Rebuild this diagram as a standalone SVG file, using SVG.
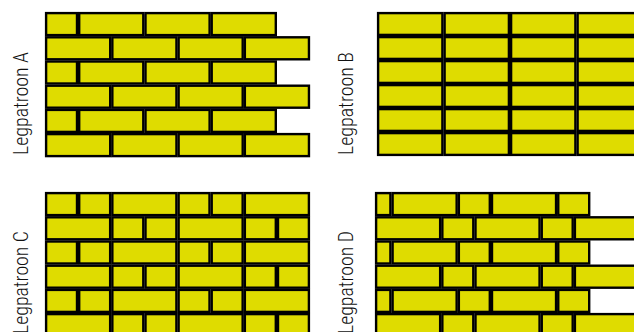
<svg xmlns="http://www.w3.org/2000/svg" width="634" height="332" viewBox="0 0 634 332">
<style>
.b{fill:#dfdc00;stroke:#000;stroke-width:2.4}
.lbl{font-family:"Roboto Condensed",Roboto,"Liberation Sans",Arial,sans-serif;font-weight:300;font-size:21px;fill:#111}
</style>
<rect width="634" height="332" fill="#fff"/>
<g id="patroonA">
<text class="lbl" transform="translate(27.5,155) rotate(-90)" textLength="103" lengthAdjust="spacingAndGlyphs">Legpatroon A</text>
<g id="A-r1"><rect class="b" x="46.1" y="13.1" width="30.9" height="22"/><rect class="b" x="79.2" y="13.1" width="64.1" height="22"/><rect class="b" x="145.5" y="13.1" width="64.1" height="22"/><rect class="b" x="211.7" y="13.1" width="64.1" height="22"/></g>
<g id="A-r2"><rect class="b" x="46.1" y="37.3" width="64.1" height="22"/><rect class="b" x="112.35" y="37.3" width="64.1" height="22"/><rect class="b" x="178.6" y="37.3" width="64.1" height="22"/><rect class="b" x="244.85" y="37.3" width="64.1" height="22"/></g>
<g id="A-r3"><rect class="b" x="46.1" y="61.5" width="30.9" height="22"/><rect class="b" x="79.2" y="61.5" width="64.1" height="22"/><rect class="b" x="145.5" y="61.5" width="64.1" height="22"/><rect class="b" x="211.7" y="61.5" width="64.1" height="22"/></g>
<g id="A-r4"><rect class="b" x="46.1" y="85.7" width="64.1" height="22"/><rect class="b" x="112.35" y="85.7" width="64.1" height="22"/><rect class="b" x="178.6" y="85.7" width="64.1" height="22"/><rect class="b" x="244.85" y="85.7" width="64.1" height="22"/></g>
<g id="A-r5"><rect class="b" x="46.1" y="109.9" width="30.9" height="22"/><rect class="b" x="79.2" y="109.9" width="64.1" height="22"/><rect class="b" x="145.5" y="109.9" width="64.1" height="22"/><rect class="b" x="211.7" y="109.9" width="64.1" height="22"/></g>
<g id="A-r6"><rect class="b" x="46.1" y="134.1" width="64.1" height="22"/><rect class="b" x="112.35" y="134.1" width="64.1" height="22"/><rect class="b" x="178.6" y="134.1" width="64.1" height="22"/><rect class="b" x="244.85" y="134.1" width="64.1" height="22"/></g>
</g>
<g id="patroonB">
<text class="lbl" transform="translate(353,155) rotate(-90)" textLength="103" lengthAdjust="spacingAndGlyphs">Legpatroon B</text>
<g id="B-r1"><rect class="b" x="378.1" y="13.1" width="64.3" height="21.8"/><rect class="b" x="444.6" y="13.1" width="64.3" height="21.8"/><rect class="b" x="511.1" y="13.1" width="64.3" height="21.8"/><rect class="b" x="577.6" y="13.1" width="64.3" height="21.8"/></g>
<g id="B-r2"><rect class="b" x="378.1" y="37.1" width="64.3" height="21.8"/><rect class="b" x="444.6" y="37.1" width="64.3" height="21.8"/><rect class="b" x="511.1" y="37.1" width="64.3" height="21.8"/><rect class="b" x="577.6" y="37.1" width="64.3" height="21.8"/></g>
<g id="B-r3"><rect class="b" x="378.1" y="61.1" width="64.3" height="21.8"/><rect class="b" x="444.6" y="61.1" width="64.3" height="21.8"/><rect class="b" x="511.1" y="61.1" width="64.3" height="21.8"/><rect class="b" x="577.6" y="61.1" width="64.3" height="21.8"/></g>
<g id="B-r4"><rect class="b" x="378.1" y="85.1" width="64.3" height="21.8"/><rect class="b" x="444.6" y="85.1" width="64.3" height="21.8"/><rect class="b" x="511.1" y="85.1" width="64.3" height="21.8"/><rect class="b" x="577.6" y="85.1" width="64.3" height="21.8"/></g>
<g id="B-r5"><rect class="b" x="378.1" y="109.1" width="64.3" height="21.8"/><rect class="b" x="444.6" y="109.1" width="64.3" height="21.8"/><rect class="b" x="511.1" y="109.1" width="64.3" height="21.8"/><rect class="b" x="577.6" y="109.1" width="64.3" height="21.8"/></g>
<g id="B-r6"><rect class="b" x="378.1" y="133.1" width="64.3" height="21.8"/><rect class="b" x="444.6" y="133.1" width="64.3" height="21.8"/><rect class="b" x="511.1" y="133.1" width="64.3" height="21.8"/><rect class="b" x="577.6" y="133.1" width="64.3" height="21.8"/></g>
</g>
<g id="patroonC">
<text class="lbl" transform="translate(27.5,334) rotate(-90)" textLength="103" lengthAdjust="spacingAndGlyphs">Legpatroon C</text>
<g id="C-r1"><rect class="b" x="46.1" y="193.1" width="30.9" height="22"/><rect class="b" x="79.2" y="193.1" width="30.95" height="22"/><rect class="b" x="112.35" y="193.1" width="64.05" height="22"/><rect class="b" x="178.6" y="193.1" width="30.9" height="22"/><rect class="b" x="211.7" y="193.1" width="30.95" height="22"/><rect class="b" x="244.85" y="193.1" width="64.05" height="22"/></g>
<g id="C-r2"><rect class="b" x="46.1" y="217.3" width="64.05" height="22"/><rect class="b" x="112.35" y="217.3" width="30.95" height="22"/><rect class="b" x="145.5" y="217.3" width="30.9" height="22"/><rect class="b" x="178.6" y="217.3" width="64.05" height="22"/><rect class="b" x="244.85" y="217.3" width="30.95" height="22"/><rect class="b" x="278" y="217.3" width="30.9" height="22"/></g>
<g id="C-r3"><rect class="b" x="46.1" y="241.5" width="30.9" height="22"/><rect class="b" x="79.2" y="241.5" width="30.95" height="22"/><rect class="b" x="112.35" y="241.5" width="64.05" height="22"/><rect class="b" x="178.6" y="241.5" width="30.9" height="22"/><rect class="b" x="211.7" y="241.5" width="30.95" height="22"/><rect class="b" x="244.85" y="241.5" width="64.05" height="22"/></g>
<g id="C-r4"><rect class="b" x="46.1" y="265.7" width="64.05" height="22"/><rect class="b" x="112.35" y="265.7" width="30.95" height="22"/><rect class="b" x="145.5" y="265.7" width="30.9" height="22"/><rect class="b" x="178.6" y="265.7" width="64.05" height="22"/><rect class="b" x="244.85" y="265.7" width="30.95" height="22"/><rect class="b" x="278" y="265.7" width="30.9" height="22"/></g>
<g id="C-r5"><rect class="b" x="46.1" y="289.9" width="30.9" height="22"/><rect class="b" x="79.2" y="289.9" width="30.95" height="22"/><rect class="b" x="112.35" y="289.9" width="64.05" height="22"/><rect class="b" x="178.6" y="289.9" width="30.9" height="22"/><rect class="b" x="211.7" y="289.9" width="30.95" height="22"/><rect class="b" x="244.85" y="289.9" width="64.05" height="22"/></g>
<g id="C-r6"><rect class="b" x="46.1" y="314.1" width="64.05" height="22"/><rect class="b" x="112.35" y="314.1" width="30.95" height="22"/><rect class="b" x="145.5" y="314.1" width="30.9" height="22"/><rect class="b" x="178.6" y="314.1" width="64.05" height="22"/><rect class="b" x="244.85" y="314.1" width="30.95" height="22"/><rect class="b" x="278" y="314.1" width="30.9" height="22"/></g>
</g>
<g id="patroonD">
<text class="lbl" transform="translate(353,334) rotate(-90)" textLength="103" lengthAdjust="spacingAndGlyphs">Legpatroon D</text>
<g id="D-r1"><rect class="b" x="376.1" y="193.1" width="14.3" height="22"/><rect class="b" x="392.6" y="193.1" width="64.05" height="22"/><rect class="b" x="458.85" y="193.1" width="30.95" height="22"/><rect class="b" x="492" y="193.1" width="64.05" height="22"/><rect class="b" x="558.25" y="193.1" width="30.95" height="22"/></g>
<g id="D-r2"><rect class="b" x="376.1" y="217.3" width="64.05" height="22"/><rect class="b" x="442.35" y="217.3" width="30.95" height="22"/><rect class="b" x="475.5" y="217.3" width="64.05" height="22"/><rect class="b" x="541.75" y="217.3" width="30.95" height="22"/><rect class="b" x="574.9" y="217.3" width="64.05" height="22"/></g>
<g id="D-r3"><rect class="b" x="376.1" y="241.5" width="14.3" height="22"/><rect class="b" x="392.6" y="241.5" width="64.05" height="22"/><rect class="b" x="458.85" y="241.5" width="30.95" height="22"/><rect class="b" x="492" y="241.5" width="64.05" height="22"/><rect class="b" x="558.25" y="241.5" width="30.95" height="22"/></g>
<g id="D-r4"><rect class="b" x="376.1" y="265.7" width="64.05" height="22"/><rect class="b" x="442.35" y="265.7" width="30.95" height="22"/><rect class="b" x="475.5" y="265.7" width="64.05" height="22"/><rect class="b" x="541.75" y="265.7" width="30.95" height="22"/><rect class="b" x="574.9" y="265.7" width="64.05" height="22"/></g>
<g id="D-r5"><rect class="b" x="376.1" y="289.9" width="14.3" height="22"/><rect class="b" x="392.6" y="289.9" width="64.05" height="22"/><rect class="b" x="458.85" y="289.9" width="30.95" height="22"/><rect class="b" x="492" y="289.9" width="64.05" height="22"/><rect class="b" x="558.25" y="289.9" width="30.95" height="22"/></g>
<g id="D-r6"><rect class="b" x="376.1" y="314.1" width="64.05" height="22"/><rect class="b" x="442.35" y="314.1" width="30.95" height="22"/><rect class="b" x="475.5" y="314.1" width="64.05" height="22"/><rect class="b" x="541.75" y="314.1" width="30.95" height="22"/><rect class="b" x="574.9" y="314.1" width="64.05" height="22"/></g>
</g>
</svg>
